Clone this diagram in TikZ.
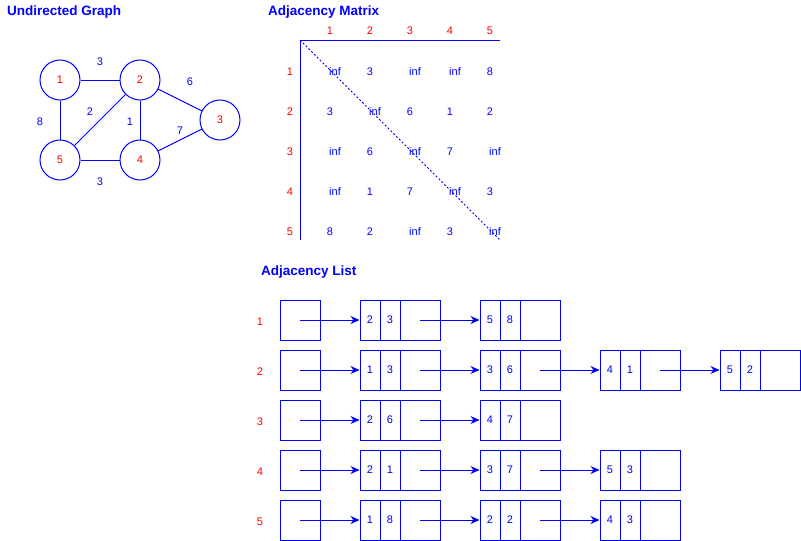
\documentclass[tikz,border=0pt]{standalone}
\usepackage{fontspec}
\setmainfont{Liberation Sans}
\usetikzlibrary{arrows.meta}
\definecolor{myblue}{HTML}{0000FF}
\definecolor{myred}{HTML}{FF0000}
\tikzset{
  ttl/.style={font=\fontsize{13.5}{15}\selectfont\bfseries, text=myblue, anchor=west, inner sep=0pt, yshift=-1.5pt},
  lbl/.style={font=\fontsize{11}{13}\selectfont, text=myblue, inner sep=0pt, yshift=-0.8pt},
  rlbl/.style={font=\fontsize{11}{13}\selectfont, text=myred, inner sep=0pt, yshift=-0.8pt},
  vtx/.style={circle, draw=myblue, line width=1pt, minimum size=40pt, inner sep=0pt, text=myred, font=\fontsize{11}{13}\selectfont},
  edge/.style={draw=myblue, line width=1pt},
  cell/.style={rectangle, draw=myblue, line width=1pt, minimum width=20pt, minimum height=40pt, inner sep=0pt, text=myblue, font=\fontsize{11}{13}\selectfont},
  ptr/.style={rectangle, draw=myblue, line width=1pt, minimum width=40pt, minimum height=40pt, inner sep=0pt},
  arr/.style={draw=myblue, line width=1pt, -{Stealth[length=9pt,width=8pt]}},
}
\newcommand{\lnode}[5]{%
  \node[cell] (#1a) at (#2+10,#3) {#4};
  \node[cell] (#1b) at (#2+30,#3) {#5};
  \node[ptr] (#1p) at (#2+60,#3) {};
}
\begin{document}
\begin{tikzpicture}[x=1pt,y=-1pt]
\useasboundingbox (0,0) rectangle (801,541);
% ---------- Graph ----------
\node[ttl] (t1) at (7,11) {Undirected Graph};
\node[vtx] (v1) at (60,80) {1};
\node[vtx] (v2) at (140,80) {2};
\node[vtx] (v3) at (220,120) {3};
\node[vtx] (v4) at (140,160) {4};
\node[vtx] (v5) at (60,160) {5};
\draw[edge] (v1) -- (v2);
\draw[edge] (v1) -- (v5);
\draw[edge] (v2) -- (v5);
\draw[edge] (v2) -- (v4);
\draw[edge] (v2) -- (v3);
\draw[edge] (v3) -- (v4);
\draw[edge] (v5) -- (v4);
\node[lbl] (e12) at (100,61) {3};
\node[lbl] (e23) at (190,81) {6};
\node[lbl] (e15) at (40,121) {8};
\node[lbl] (e25) at (90,111) {2};
\node[lbl] (e24) at (130,121) {1};
\node[lbl] (e34) at (180,130) {7};
\node[lbl] (e54) at (100,181) {3};
% ---------- Matrix ----------
\node[ttl] (t2) at (268,11) {Adjacency Matrix};
\coordinate (mc) at (300,40);
\coordinate (mr) at (500,40);
\coordinate (mb) at (300,240);
\coordinate (md) at (500,240);
\draw[edge] (mr) -- (mc) -- (mb);
\draw[draw=myblue, line width=0.8pt, dash pattern=on 2pt off 2pt] (mc) -- (md);
\foreach \i/\x in {1/330,2/370,3/410,4/450,5/490} {
  \node[rlbl] (ch\i) at (\x,30) {\i};
}
\foreach \i/\y in {1/71,2/111,3/151,4/191,5/231} {
  \node[rlbl] (rh\i) at (290,\y) {\i};
}
% row 1
\node[lbl] (m11) at (335,71) {inf};
\node[lbl] (m12) at (370,71) {3};
\node[lbl] (m13) at (415,71) {inf};
\node[lbl] (m14) at (455,71) {inf};
\node[lbl] (m15) at (490,71) {8};
% row 2
\node[lbl] (m21) at (330,111) {3};
\node[lbl] (m22) at (375,111) {inf};
\node[lbl] (m23) at (410,111) {6};
\node[lbl] (m24) at (450,111) {1};
\node[lbl] (m25) at (490,111) {2};
% row 3
\node[lbl] (m31) at (335,151) {inf};
\node[lbl] (m32) at (370,151) {6};
\node[lbl] (m33) at (415,151) {inf};
\node[lbl] (m34) at (450,151) {7};
\node[lbl] (m35) at (495,151) {inf};
% row 4
\node[lbl] (m41) at (335,191) {inf};
\node[lbl] (m42) at (370,191) {1};
\node[lbl] (m43) at (410,191) {7};
\node[lbl] (m44) at (455,191) {inf};
\node[lbl] (m45) at (490,191) {3};
% row 5
\node[lbl] (m51) at (330,231) {8};
\node[lbl] (m52) at (370,231) {2};
\node[lbl] (m53) at (415,231) {inf};
\node[lbl] (m54) at (450,231) {3};
\node[lbl] (m55) at (495,231) {inf};
% ---------- Adjacency list ----------
\node[ttl] (t3) at (261,271) {Adjacency List};
\foreach \i/\y in {1/320,2/370,3/420,4/470,5/520} {
  \node[rlbl] (lh\i) at (260,\y+1) {\i};
  \node[ptr] (h\i) at (300,\y) {};
}
% row 1
\lnode{r1n1}{360}{320}{2}{3}
\lnode{r1n2}{480}{320}{5}{8}
\draw[arr] (h1.center) -- (r1n1a.west);
\draw[arr] (r1n1p.center) -- (r1n2a.west);
% row 2
\lnode{r2n1}{360}{370}{1}{3}
\lnode{r2n2}{480}{370}{3}{6}
\lnode{r2n3}{600}{370}{4}{1}
\lnode{r2n4}{720}{370}{5}{2}
\draw[arr] (h2.center) -- (r2n1a.west);
\draw[arr] (r2n1p.center) -- (r2n2a.west);
\draw[arr] (r2n2p.center) -- (r2n3a.west);
\draw[arr] (r2n3p.center) -- (r2n4a.west);
% row 3
\lnode{r3n1}{360}{420}{2}{6}
\lnode{r3n2}{480}{420}{4}{7}
\draw[arr] (h3.center) -- (r3n1a.west);
\draw[arr] (r3n1p.center) -- (r3n2a.west);
% row 4
\lnode{r4n1}{360}{470}{2}{1}
\lnode{r4n2}{480}{470}{3}{7}
\lnode{r4n3}{600}{470}{5}{3}
\draw[arr] (h4.center) -- (r4n1a.west);
\draw[arr] (r4n1p.center) -- (r4n2a.west);
\draw[arr] (r4n2p.center) -- (r4n3a.west);
% row 5
\lnode{r5n1}{360}{520}{1}{8}
\lnode{r5n2}{480}{520}{2}{2}
\lnode{r5n3}{600}{520}{4}{3}
\draw[arr] (h5.center) -- (r5n1a.west);
\draw[arr] (r5n1p.center) -- (r5n2a.west);
\draw[arr] (r5n2p.center) -- (r5n3a.west);
\end{tikzpicture}
\end{document}
